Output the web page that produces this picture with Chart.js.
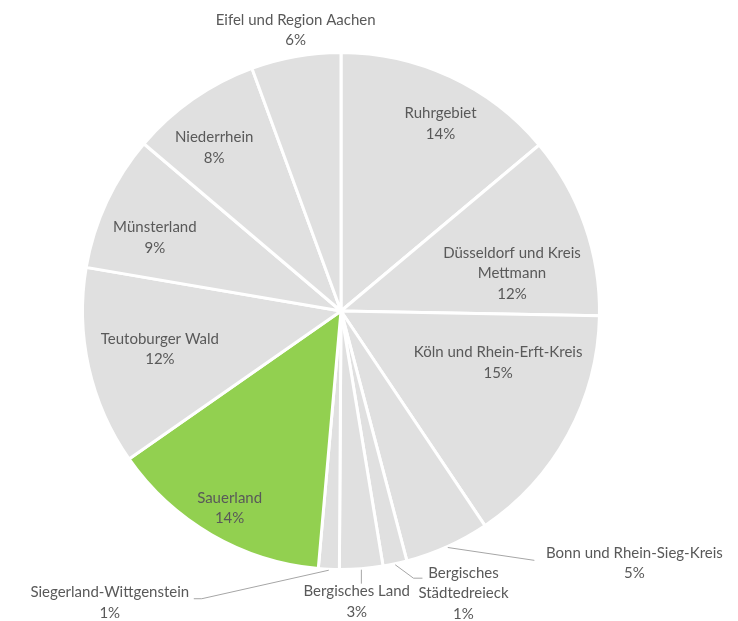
<!DOCTYPE html>
<html>
<head>
<meta charset="utf-8">
<script src="https://cdn.jsdelivr.net/npm/chart.js@4.4.1/dist/chart.umd.min.js"></script>
<style>
  html, body { margin: 0; padding: 0; background: #fff; }
  #wrap { width: 738px; height: 621px; }
</style>
</head>
<body>
<div id="wrap"><canvas id="pieChart" width="738" height="621"></canvas></div>
<script>
// regions, clockwise from 12 o'clock
const regions = [
  ["Ruhrgebiet"],
  ["Düsseldorf und Kreis", "Mettmann"],
  ["Köln und Rhein-Erft-Kreis"],
  ["Bonn und Rhein-Sieg-Kreis"],
  ["Bergisches", "Städtedreieck"],
  ["Bergisches Land"],
  ["Siegerland-Wittgenstein"],
  ["Sauerland"],
  ["Teutoburger Wald"],
  ["Münsterland"],
  ["Niederrhein"],
  ["Eifel und Region Aachen"]
];
// share of each slice
const shares = [13.9, 11.4, 15.3, 5.3, 1.5, 2.7, 1.3, 13.9, 12.4, 8.5, 8.2, 5.6];
// percent as printed on the labels
const pctLabels = ["14%", "12%", "15%", "5%", "1%", "3%", "1%", "14%", "12%", "9%", "8%", "6%"];

const GREY = "#e0e0e0";
const GREEN = "#92d050";
const TEXT = "#595959";
const LEADER = "#a6a6a6";

// label placement: f = distance / radius, da = shift from mid angle (deg),
// leader = points relative to label centre (drawn from the slice edge)
const placement = [
  { f: 0.82, da: 3.0 },
  { f: 0.677, da: 7.1 },
  { f: 0.64, da: -10.4 },
  { f: 1.497, da: -25.0, leader: [[-100, -3]] },
  { f: 1.19, da: -11.4, leader: [[-50, -15], [-41, -15]] },
  { f: 1.126, da: 1.4, leader: [["x", -18]] },
  { f: 1.44, da: 35.7, leader: [[92, -4], [84, -4]] },
  { f: 0.876, da: -0.6 },
  { f: 0.716, da: 0.7 },
  { f: 0.774, da: -3.5 },
  { f: 0.80, da: -2.9 },
  { f: 1.10, da: 0.9 }
];

const labelPlugin = {
  id: "sliceLabels",
  afterDatasetsDraw(chart) {
    const ctx = chart.ctx;
    const meta = chart.getDatasetMeta(0);
    ctx.save();
    ctx.font = "15px Lato, 'Open Sans', sans-serif";
    ctx.textAlign = "center";
    ctx.textBaseline = "middle";
    meta.data.forEach((arc, i) => {
      const { x, y, startAngle, endAngle, outerRadius } = arc.getProps(["x", "y", "startAngle", "endAngle", "outerRadius"], true);
      const mid = (startAngle + endAngle) / 2;
      const p = placement[i];
      const a = mid + p.da * Math.PI / 180;
      const lx = x + Math.cos(a) * outerRadius * p.f;
      const ly = y + Math.sin(a) * outerRadius * p.f;
      if (p.leader) {
        const ex = x + Math.cos(mid) * (outerRadius + 1);
        const ey = y + Math.sin(mid) * (outerRadius + 1);
        ctx.strokeStyle = LEADER;
        ctx.lineWidth = 1;
        ctx.beginPath();
        ctx.moveTo(ex, ey);
        p.leader.forEach(([dx, dy]) => {
          ctx.lineTo(dx === "x" ? ex : lx + dx, ly + dy);
        });
        ctx.stroke();
      }
      const lines = regions[i].concat([pctLabels[i]]);
      const lh = 20.5;
      const top = ly - (lines.length - 1) * lh / 2;
      ctx.fillStyle = TEXT;
      lines.forEach((t, k) => ctx.fillText(t, lx, top + k * lh));
    });
    ctx.restore();
  }
};

new Chart(document.getElementById("pieChart").getContext("2d"), {
  type: "pie",
  data: {
    labels: regions.map(r => r.join(" ")),
    datasets: [{
      data: shares,
      backgroundColor: regions.map(r => r[0] === "Sauerland" ? GREEN : GREY),
      borderColor: "#ffffff",
      borderWidth: 3
    }]
  },
  options: {
    responsive: false,
    animation: false,
    layout: { padding: { top: 51, bottom: 50, left: 81, right: 137 } },
    plugins: {
      legend: { display: false },
      tooltip: { enabled: false }
    }
  },
  plugins: [labelPlugin]
});
</script>
</body>
</html>
